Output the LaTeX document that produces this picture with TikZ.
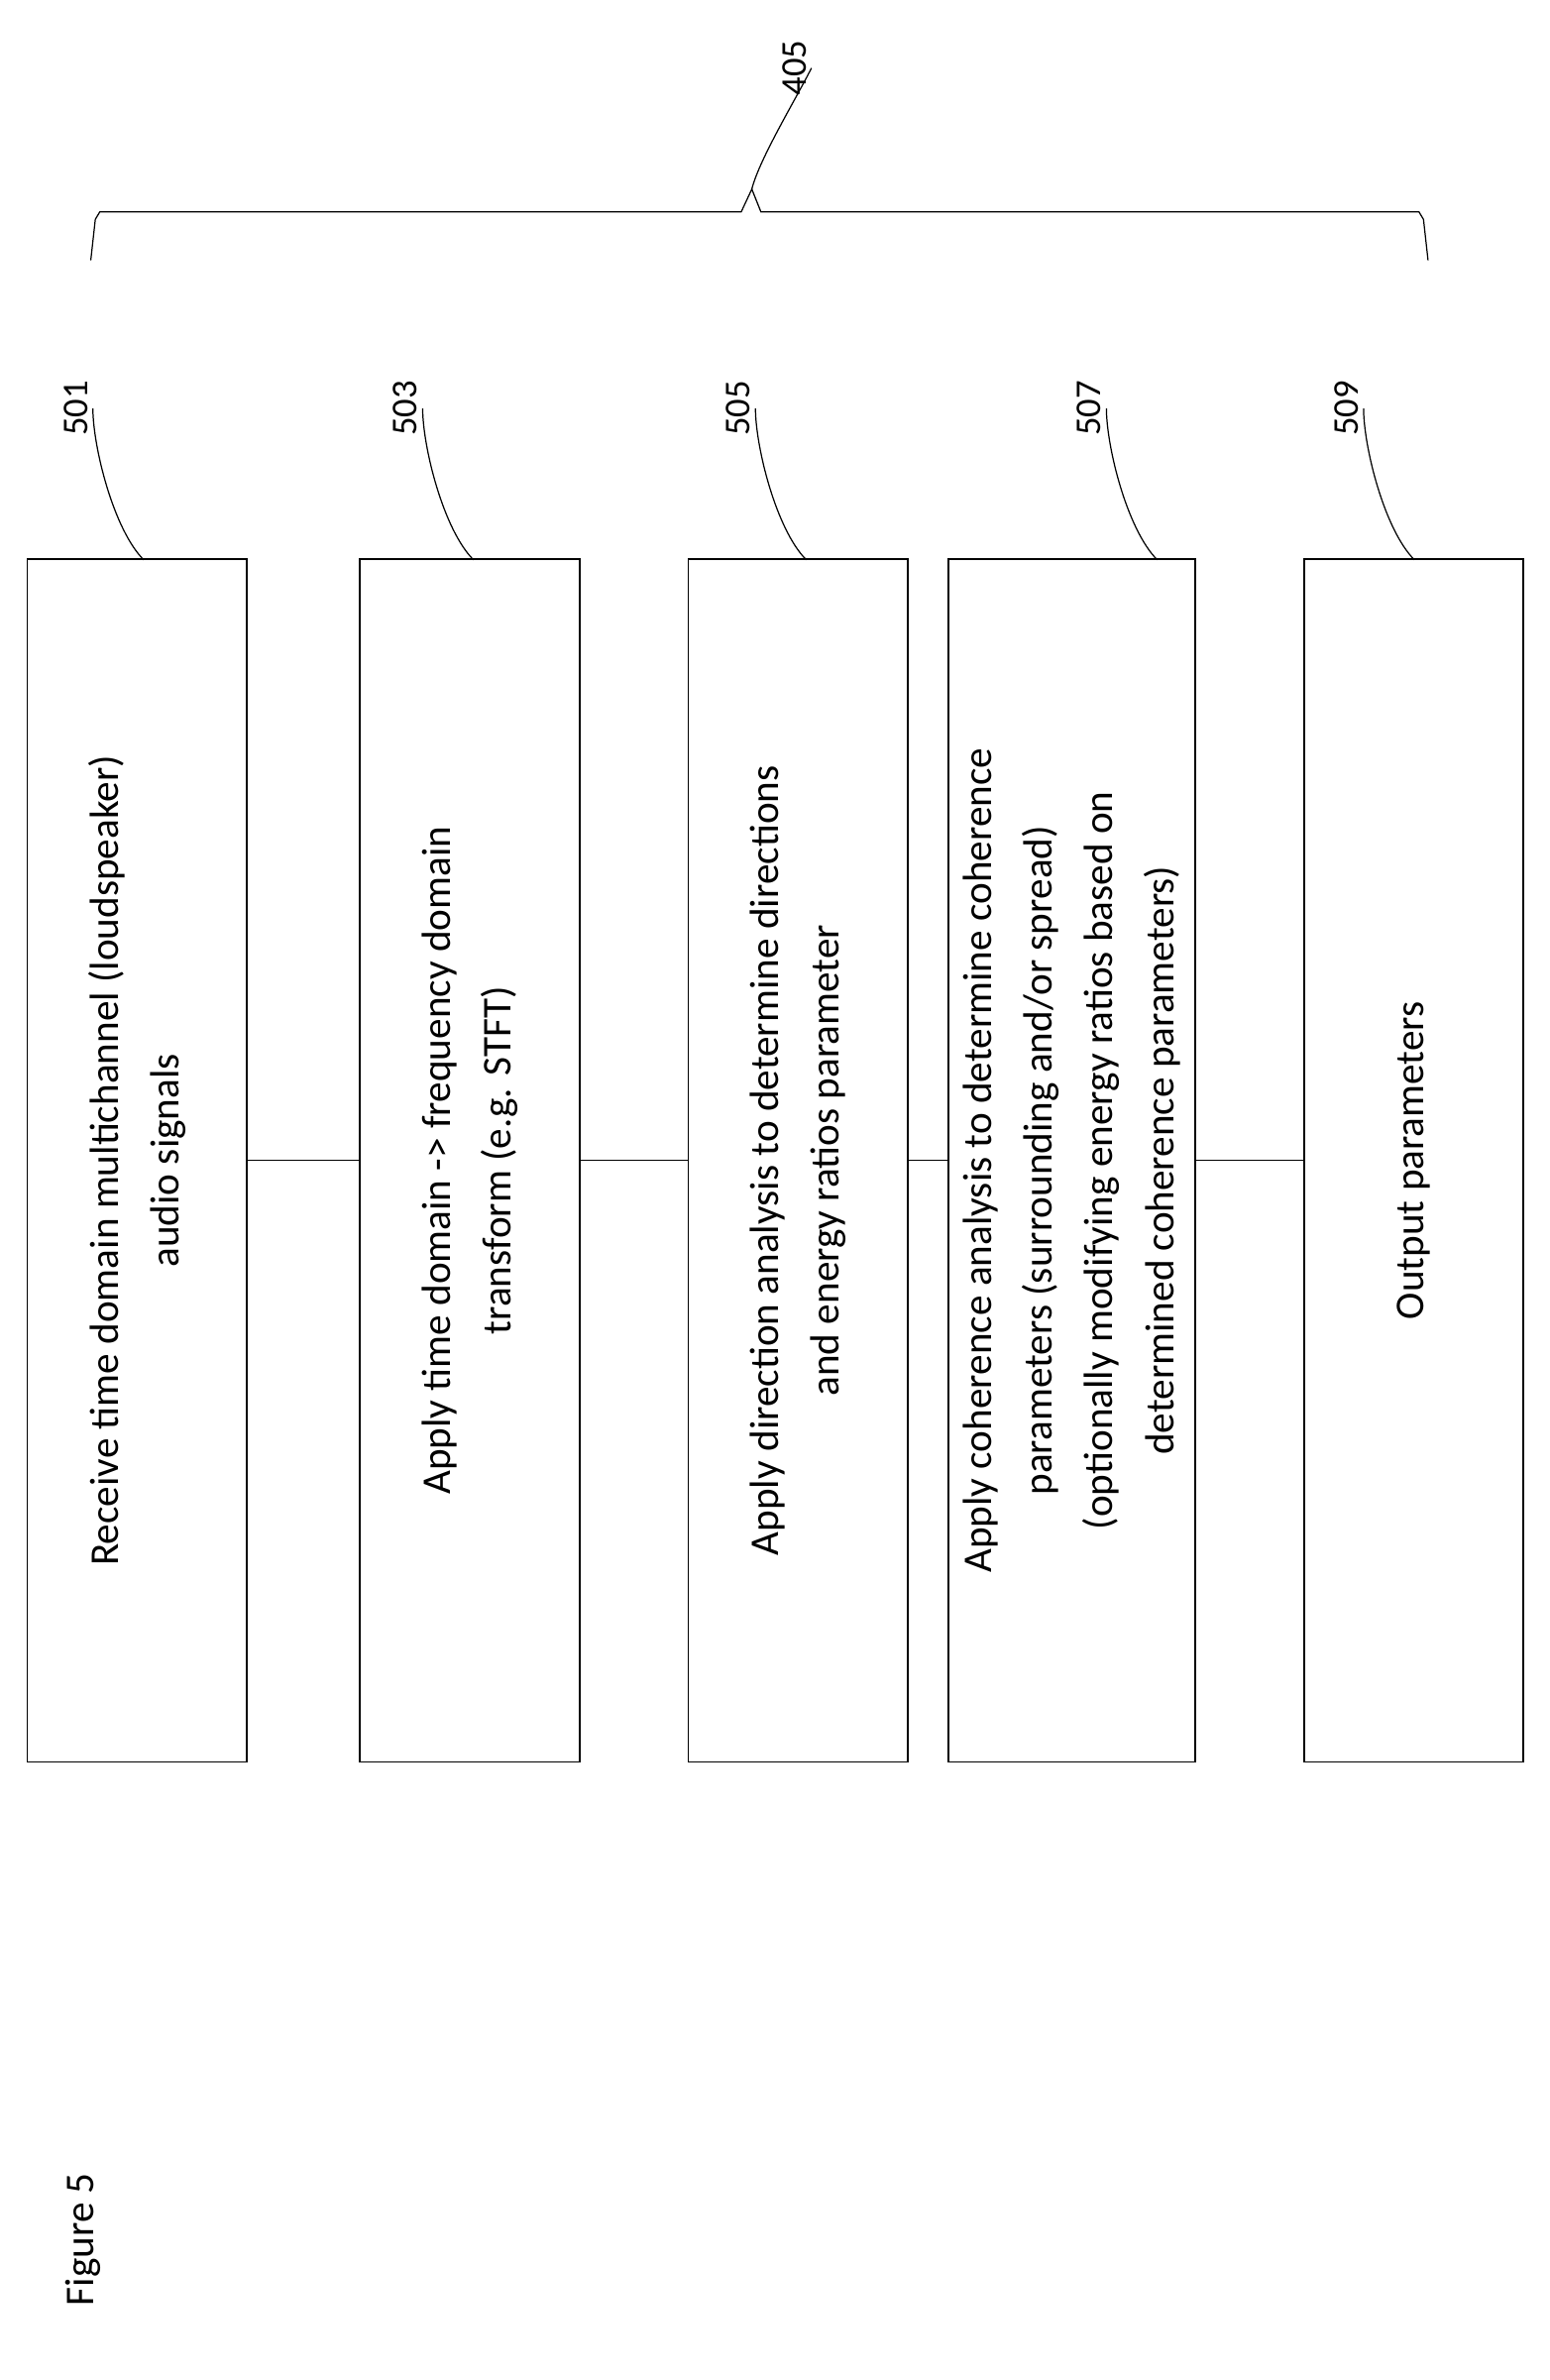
\documentclass[tikz,border=0pt]{standalone}
\usepackage{fontspec}
\setmainfont{Carlito}
\begin{document}
\begin{tikzpicture}[x=1pt,y=-1pt,
  box/.style={draw,line width=1.2pt,rotate=90,minimum width=795pt,minimum height=145pt,inner sep=0pt,align=center,font=\fontsize{27}{40}\selectfont},
  lab/.style={rotate=90,font=\fontsize{24}{28}\selectfont},
  lead/.style={line width=0.8pt},
  conn/.style={line width=0.8pt}]
\useasboundingbox (0,0) rectangle (1024,1573);
\node[box] (b1) at (90.5,767) {Receive time domain multichannel (loudspeaker)\\audio signals};
\node[box] (b2) at (310.5,767) {Apply time domain -> frequency domain\\transform (e.g. STFT)};
\node[box] (b3) at (527.5,767) {Apply direction analysis to determine directions\\and energy ratios parameter};
\node[box,minimum height=163pt] (b4) at (708.5,767) {Apply coherence analysis to determine coherence\\parameters (surrounding and/or spread)\\(optionally modifying energy ratios based on\\determined coherence parameters)};
\node[box] (b5) at (934.5,767) {Output parameters};
\draw[conn] (b1.south) -- (b2.north);
\draw[conn] (b2.south) -- (b3.north);
\draw[conn] (b3.south) -- (b4.north);
\draw[conn] (b4.south) -- (b5.north);
\foreach \b/\t/\x in {b1/501/50,b2/503/268,b3/505/488,b4/507/720,b5/509/890}{
  \node[lab] (l\t) at (\x,270) {\t};
  \draw[lead] (l\t.south) .. controls ++(0,25) and ++(-20,-20) .. (\x+45,370);
}
\node[lab] (l405) at (525,45) {405};
\coordinate (tip) at (497,125);
\draw[lead] (l405.south) .. controls ++(-10,20) and ++(5,-20) .. (tip);
\draw[line width=0.8pt] (60,172) -- (63,145) -- (66,140) -- (490,140) -- (tip) -- (503,140) -- (938,140) -- (941,145) -- (944,172);
\node[rotate=90,font=\fontsize{27}{32}\selectfont] (fig) at (55,1480) {Figure 5};
\end{tikzpicture}
\end{document}
